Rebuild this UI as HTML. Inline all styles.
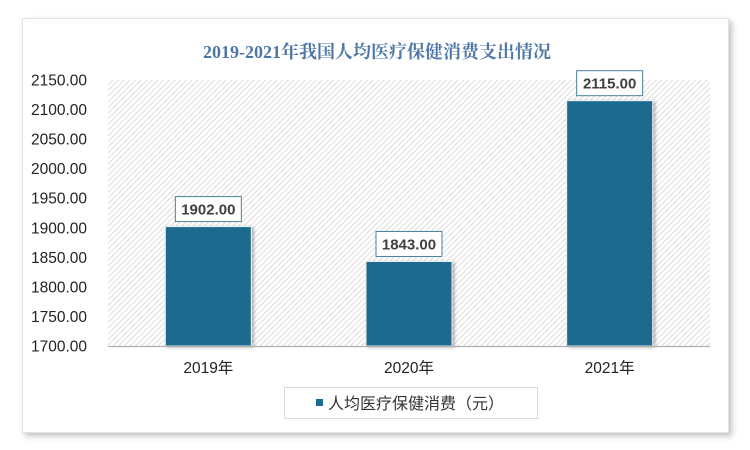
<!DOCTYPE html>
<html><head><meta charset="utf-8">
<style>
body{margin:0;width:750px;height:450px;background:#fff;overflow:hidden;font-family:"Liberation Sans","Noto Sans CJK SC",sans-serif;}
#frame{position:absolute;left:22px;top:18px;width:705px;height:413px;background:#fff;border:1px solid #e2e2e2;box-shadow:3px 3px 6px rgba(0,0,0,0.25);}
</style></head><body>
<div id="frame"></div>
<svg id="chart" width="750" height="450" style="position:absolute;left:0;top:0">
<defs>
<pattern id="hatch" patternUnits="userSpaceOnUse" width="4" height="4" patternTransform="rotate(45)">
<rect width="4" height="4" fill="#fff"/><line x1="0" y1="0" x2="0" y2="4" stroke="#d4d4d4" stroke-width="1.6"/>
</pattern>
<filter id="sh" x="-20%" y="-20%" width="140%" height="140%"><feDropShadow dx="2" dy="1" stdDeviation="1.5" flood-color="#000" flood-opacity="0.3"/></filter>
</defs>
<text x="377" y="58" text-anchor="middle" font-family="'Liberation Serif','Noto Serif CJK SC',serif" font-weight="bold" font-size="18" fill="#4f77a6">2019-2021年我国人均医疗保健消费支出情况</text>
<rect x="108" y="80" width="602" height="266" fill="url(#hatch)"/>
<g id="yaxis"></g><g id="bars"></g>
<line x1="108" y1="346.5" x2="710" y2="346.5" stroke="#b0b0b0" stroke-width="1.2"/>
<g>
<rect x="284.5" y="387.5" width="253" height="31" fill="#fff" stroke="#d9d9d9"/>
<rect x="316" y="399" width="7" height="7" fill="#1d6a8e"/>
<text x="328" y="409" font-size="16" fill="#333">人均医疗保健消费（元）</text>
</g>
</svg>
<script>
const categories=["2019年","2020年","2021年"];
const values=[1902,1843,2115];
const yTicks=[1700,1750,1800,1850,1900,1950,2000,2050,2100,2150];
const ns="http://www.w3.org/2000/svg";
const L=108,R=710,T=80,B=346,yMin=1700,yMax=2150;
function y(v){return B-(v-yMin)/(yMax-yMin)*(B-T);}
function xc(i){return L+(i+0.5)*(R-L)/categories.length;}
const ya=document.getElementById('yaxis'),bg=document.getElementById('bars');
yTicks.forEach(t=>{const e=document.createElementNS(ns,'text');
e.setAttribute('x',87);e.setAttribute('y',y(t)+5.5);e.setAttribute('text-anchor','end');e.setAttribute('font-size','15.5');e.setAttribute('fill','#222');


e.textContent=t.toFixed(2);ya.appendChild(e);});
const bw=86;
categories.forEach((c,i)=>{
const x=xc(i),top=y(values[i]);
const r=document.createElementNS(ns,'rect');
r.setAttribute('x',x-bw/2);r.setAttribute('y',top);r.setAttribute('width',bw);r.setAttribute('height',B-top);
r.setAttribute('fill','#1d6a8e');r.setAttribute('stroke','#e8f0f4');r.setAttribute('stroke-width','1');r.setAttribute('filter','url(#sh)');


bg.appendChild(r);
const lb=document.createElementNS(ns,'rect');
lb.setAttribute('x',x-33);lb.setAttribute('y',top-30);lb.setAttribute('width',66);lb.setAttribute('height',25);
lb.setAttribute('fill','#fff');lb.setAttribute('stroke','#4b7f9c');


bg.appendChild(lb);
const t=document.createElementNS(ns,'text');
t.setAttribute('x',x);t.setAttribute('y',top-12);t.setAttribute('text-anchor','middle');t.setAttribute('font-size','15');t.setAttribute('font-weight','bold');t.setAttribute('fill','#404040');


t.textContent=values[i].toFixed(2);bg.appendChild(t);
const xl=document.createElementNS(ns,'text');
xl.setAttribute('x',x);xl.setAttribute('y',373);xl.setAttribute('text-anchor','middle');xl.setAttribute('font-size','15.5');xl.setAttribute('fill','#222');


xl.textContent=c;bg.appendChild(xl);
});
</script>
</body></html>
